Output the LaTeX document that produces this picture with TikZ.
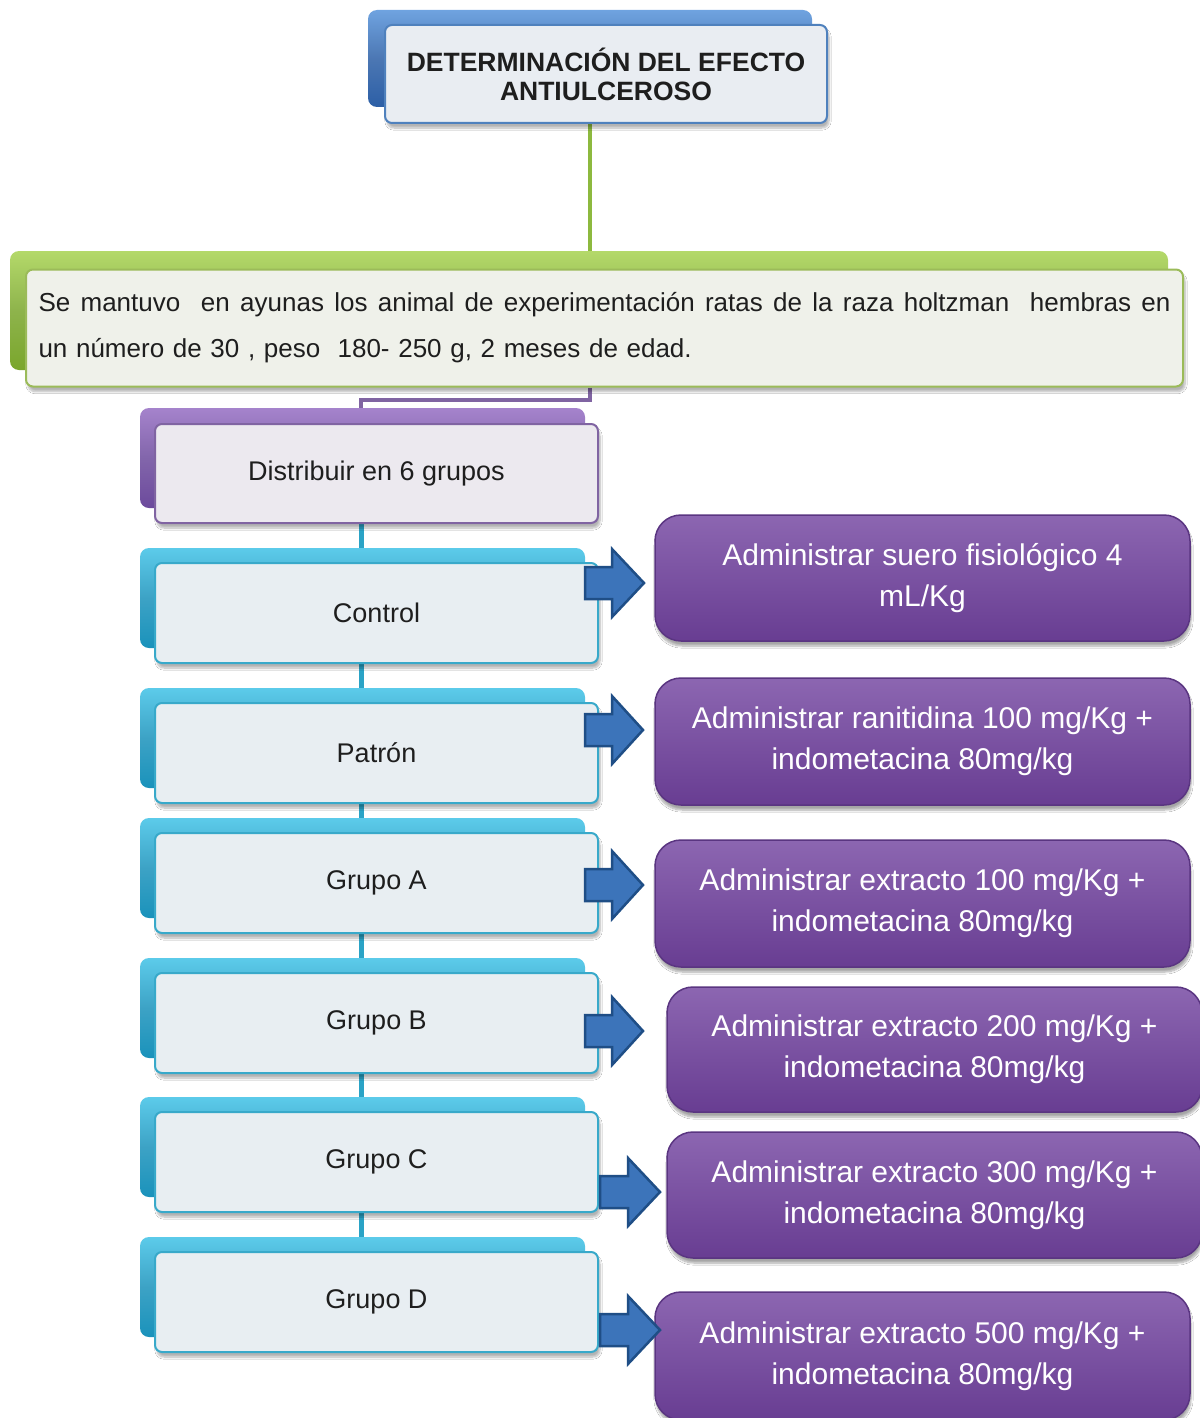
\documentclass[tikz,border=0pt]{standalone}
\usepackage{fontspec}
\setmainfont{Liberation Sans}
\usetikzlibrary{shadows.blur,calc}
\pgfdeclarelayer{bg}
\pgfsetlayers{bg,main}
\definecolor{txt}{HTML}{1E1E1E}
\definecolor{blueT}{HTML}{6FA3E0}
\definecolor{blueB}{HTML}{2C5FA6}
\definecolor{blueE}{HTML}{4F81BD}
\definecolor{grnT}{HTML}{B4D96A}
\definecolor{grnB}{HTML}{7AA62C}
\definecolor{grnE}{HTML}{9BBB59}
\definecolor{purT}{HTML}{A583CC}
\definecolor{purB}{HTML}{6C4A9C}
\definecolor{purE}{HTML}{8064A2}
\definecolor{tealT}{HTML}{5CCBEA}
\definecolor{tealB}{HTML}{1A92BB}
\definecolor{tealE}{HTML}{38A9CA}
\definecolor{boxT}{HTML}{8C66B1}
\definecolor{boxB}{HTML}{683D92}
\definecolor{boxE}{HTML}{5A3581}
\definecolor{arrF}{HTML}{3C74BA}
\definecolor{arrE}{HTML}{1F4E86}
\definecolor{frBlue}{HTML}{E9EDF2}
\definecolor{frGrn}{HTML}{EFF1EA}
\definecolor{frPur}{HTML}{ECE9EF}
\definecolor{frTeal}{HTML}{E8EEF2}
\definecolor{gLine}{HTML}{8DB93F}
\definecolor{tLine}{HTML}{2AA3C6}
\newcommand{\blockarr}[4]{%
  \draw[barrow, shift={(#1,#4)}] (0,-16) -- (#2,-16) -- (#2,-34) -- (#3,0)
    -- (#2,34) -- (#2,16) -- (0,16) -- cycle;}
\newcommand{\gapx}{\hspace{0.28em plus 1fil}}
\begin{document}
\begin{tikzpicture}[x=1pt,y=-1pt,
  backbox/.style={rounded corners=9pt, inner sep=0pt, draw=none},
  frontbox/.style={rounded corners=7pt, line width=2pt, inner sep=0pt,
     blur shadow={shadow xshift=2pt, shadow yshift=-5pt, shadow blur steps=8, shadow opacity=30}},
  bluebk/.style={backbox, top color=blueT, bottom color=blueB, middle color=blueB!85!white},
  grnbk/.style={backbox, top color=grnT, bottom color=grnB, middle color=grnB!85!white},
  purbk/.style={backbox, top color=purT, bottom color=purB, middle color=purB!85!white},
  tealbk/.style={backbox, top color=tealT, bottom color=tealB, middle color=tealB!85!white},
  grpfr/.style={frontbox, draw=tealE, fill=frTeal,
     text=txt, font=\fontsize{27}{32}\selectfont},
  actbox/.style={rounded corners=26pt, draw=boxE, line width=1.5pt, top color=boxT, bottom color=boxB,
     text=white, align=center, font=\fontsize{30}{41}\selectfont, inner sep=0pt,
     blur shadow={shadow xshift=1pt, shadow yshift=-5pt, shadow blur steps=8, shadow opacity=35}},
  gconn/.style={draw=gLine, line width=4pt},
  pconn/.style={draw=purE, line width=4pt},
  tconn/.style={draw=tLine, line width=5pt},
  barrow/.style={fill=arrF, draw=arrE, line width=2.5pt, line join=miter}
]
\useasboundingbox (0,0) rectangle (1199,1418);
\coordinate (gx) at (590,0);
\coordinate (tx) at (361,0);

% title
\node[bluebk, minimum width=444, minimum height=97] (tback) at (590,58.5) {};
\node[frontbox, draw=blueE, fill=frBlue, minimum width=442, minimum height=98,
  text=txt, align=center, font=\bfseries\fontsize{26.5}{29}\selectfont] (tfront) at (606,74)
  {DETERMINACIÓN DEL EFECTO\\ANTIULCEROSO};

% green
\node[grnbk, minimum width=1158, minimum height=119] (gback) at (589,310.5) {};
\node[frontbox, draw=grnE, fill=frGrn, minimum width=1157, minimum height=117,
  text=txt, inner xsep=12pt, text width=1132pt, align=left,
  font=\fontsize{26}{46}\selectfont] (gfront) at (604.5,328)
  {\hbox to 1132pt{Se\gapx mantuvo\gapx\gapx en\gapx ayunas\gapx los\gapx animal\gapx de\gapx experimentación\gapx ratas\gapx de\gapx la\gapx raza\gapx holtzman\gapx\gapx hembras\gapx en}\\
   un número de 30 , peso\ \ 180- 250 g, 2 meses de edad.};

% distribuir
\node[purbk, minimum width=445, minimum height=100] (dback) at (362.5,458) {};
\node[frontbox, draw=purE, fill=frPur, minimum width=443, minimum height=99,
  text=txt, font=\fontsize{27}{32}\selectfont] (dfront) at (376.5,473.5) {Distribuir en 6 grupos};

% groups
\node[tealbk, minimum width=445, minimum height=100] (cback) at (362.5,598) {};
\node[grpfr, minimum width=443, minimum height=100] (cfront) at (376.5,613) {Control};
\node[tealbk, minimum width=445, minimum height=100] (pback) at (362.5,738) {};
\node[grpfr, minimum width=443, minimum height=100] (pfront) at (376.5,753) {Patrón};
\node[tealbk, minimum width=445, minimum height=100] (aback) at (362.5,868) {};
\node[grpfr, minimum width=443, minimum height=100] (afront) at (376.5,883) {Grupo A};
\node[tealbk, minimum width=445, minimum height=100] (bback) at (362.5,1008) {};
\node[grpfr, minimum width=443, minimum height=100] (bfront) at (376.5,1023) {Grupo B};
\node[tealbk, minimum width=445, minimum height=100] (ccback) at (362.5,1147) {};
\node[grpfr, minimum width=443, minimum height=100] (ccfront) at (376.5,1162) {Grupo C};
\node[tealbk, minimum width=445, minimum height=100] (ddback) at (362.5,1287) {};
\node[grpfr, minimum width=443, minimum height=100] (ddfront) at (376.5,1302) {Grupo D};

% action boxes
\node[actbox, minimum width=535, minimum height=126] (act1) at (922.5,578) {Administrar suero fisiológico 4\\mL/Kg};
\node[actbox, minimum width=535, minimum height=127] (act2) at (922.5,741.5) {Administrar ranitidina 100 mg/Kg +\\indometacina 80mg/kg};
\node[actbox, minimum width=535, minimum height=127] (act3) at (922.5,903.5) {Administrar extracto 100 mg/Kg +\\indometacina 80mg/kg};
\node[actbox, minimum width=535, minimum height=125] (act4) at (934.5,1049.5) {Administrar extracto 200 mg/Kg +\\indometacina 80mg/kg};
\node[actbox, minimum width=535, minimum height=126] (act5) at (934.5,1195) {Administrar extracto 300 mg/Kg +\\indometacina 80mg/kg};
\node[actbox, minimum width=535, minimum height=128] (act6) at (922.5,1356) {Administrar extracto 500 mg/Kg +\\indometacina 80mg/kg};

% block arrows
\blockarr{585}{27}{59}{583}
\blockarr{585}{27}{58}{730}
\blockarr{585}{27}{58}{885}
\blockarr{585}{27}{58}{1031}
\blockarr{600}{28}{60}{1192}
\blockarr{600}{28}{60}{1330}

% connectors (behind boxes)
\begin{pgfonlayer}{bg}
\fill[white] (0,0) rectangle (1199,1418);
\draw[gconn] (tfront.south -| gx) -- (gback.north -| gx);
\draw[pconn] (gfront.south -| gx) -- ++(0,12) -| (dback.north -| tx);
\draw[tconn] (dfront.south -| tx) -- (cback.north -| tx);
\draw[tconn] (cfront.south -| tx) -- (pback.north -| tx);
\draw[tconn] (pfront.south -| tx) -- (aback.north -| tx);
\draw[tconn] (afront.south -| tx) -- (bback.north -| tx);
\draw[tconn] (bfront.south -| tx) -- (ccback.north -| tx);
\draw[tconn] (ccfront.south -| tx) -- (ddback.north -| tx);
\end{pgfonlayer}
\end{tikzpicture}
\end{document}
